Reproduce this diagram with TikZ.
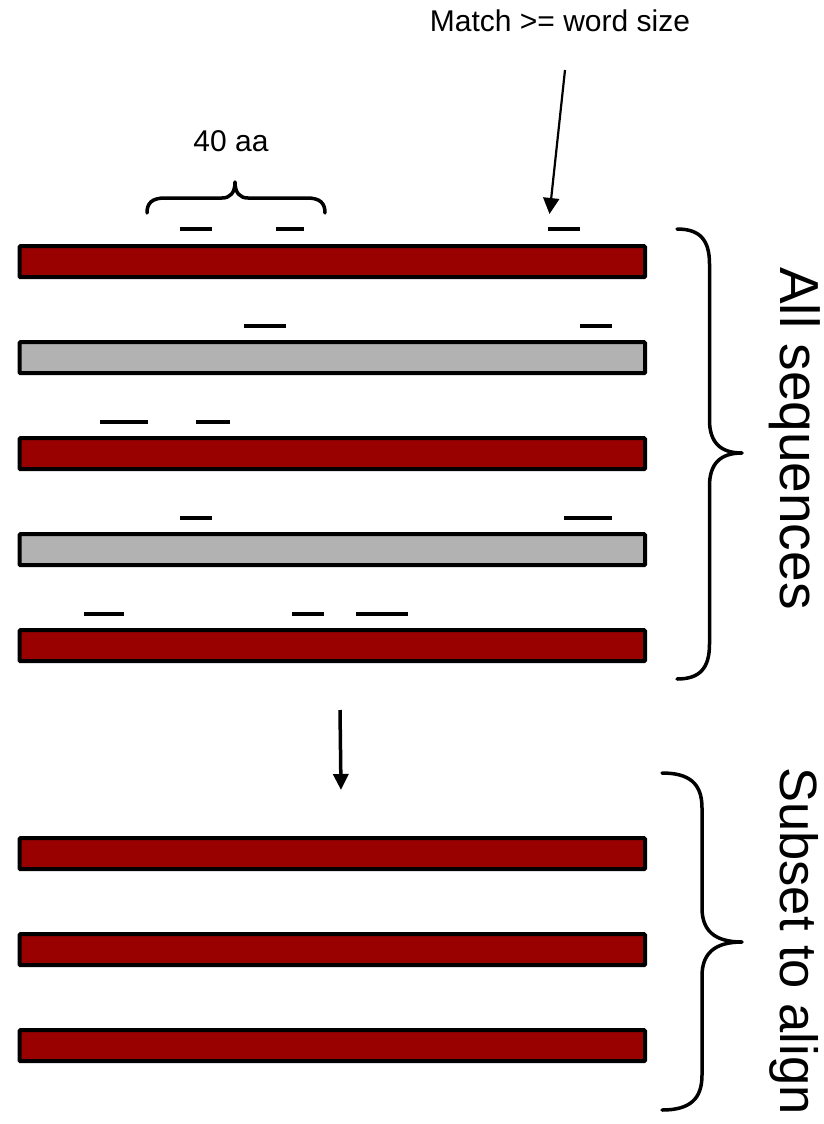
\documentclass[tikz,border=0pt]{standalone}
\usepackage{fontspec}
\setmainfont{Liberation Sans}
\usetikzlibrary{arrows.meta}
\definecolor{seqred}{RGB}{153,0,0}
\definecolor{seqgray}{RGB}{178,178,178}
\tikzset{
  seqbar/.style={draw=black, line width=4pt, rounded corners=1pt, minimum width=625.5pt, minimum height=31pt, inner sep=0pt, outer sep=0pt},
  redbar/.style={seqbar, fill=seqred},
  graybar/.style={seqbar, fill=seqgray},
  wordhit/.style={line width=4pt},
  bracepath/.style={line width=3.5pt, line cap=round, line join=round},
  lbl/.style={inner sep=0pt, font=\fontsize{30}{36}\selectfont},
  biglbl/.style={inner sep=0pt, rotate=-90, anchor=base west},
  pointer/.style={line width=2.2pt, -{Triangle[length=16pt,width=16pt]}},
  flow/.style={line width=3.5pt, -{Triangle[length=16pt,width=15pt]}}
}
\begin{document}
\begin{tikzpicture}[x=1pt,y=-1pt]
\useasboundingbox (0,0) rectangle (824,1124);

% sequence bars
\node[redbar]  (b1) at (332.25,261.7) {};
\node[graybar] (b2) at (332.25,357.7) {};
\node[redbar]  (b3) at (332.25,453.7) {};
\node[graybar] (b4) at (332.25,549.7) {};
\node[redbar]  (b5) at (332.25,645.7) {};
\node[redbar]  (b6) at (332.25,853.7) {};
\node[redbar]  (b7) at (332.25,949.7) {};
\node[redbar]  (b8) at (332.25,1045.7) {};

% word hits
\draw[wordhit] (180,229.3) -- (212,229.3);
\draw[wordhit] (276,229.3) -- (304,229.3);
\draw[wordhit] (548,229.3) -- (580,229.3);
\draw[wordhit] (244,325.7) -- (286,325.7);
\draw[wordhit] (580,325.7) -- (612,325.7);
\draw[wordhit] (100,421.7) -- (148,421.7);
\draw[wordhit] (196,421.7) -- (230,421.7);
\draw[wordhit] (180,517.7) -- (212,517.7);
\draw[wordhit] (564,517.7) -- (612,517.7);
\draw[wordhit] (84,613.7) -- (124,613.7);
\draw[wordhit] (292,613.7) -- (324,613.7);
\draw[wordhit] (356,613.7) -- (408,613.7);

% labels
\node[lbl, anchor=base] (match) at (560,32) {Match >= word size};
\node[lbl, anchor=base] (forty) at (231,151.5) {40 aa};
\node[biglbl, font=\fontsize{55}{66}\selectfont] (allseq) at (780,267) {All sequences};
\node[biglbl, font=\fontsize{52.5}{63}\selectfont] (subset) at (780,767) {Subset to align};

% arrows
\coordinate (matchtail) at (565,70);
\coordinate (matchtip) at (549.5,214);
\draw[pointer] (matchtail) -- (matchtip);
\coordinate (flowtail) at (340,710);
\coordinate (flowtip) at (341,790);
\draw[flow] (flowtail) -- (flowtip);

% top brace (40 aa)
\draw[bracepath] (147,213) .. controls (147,203) and (152,198) .. (165,198) -- (222,198)
  .. controls (230,198) and (235,193) .. (235,182)
  .. controls (235,193) and (240,198) .. (248,198) -- (307,198)
  .. controls (320,198) and (325,203) .. (325,213);

% right brace: all sequences
\draw[bracepath] (677,229) .. controls (700,229) and (709.5,240) .. (709.5,264) -- (709.5,420)
  .. controls (709.5,442) and (720,453) .. (742,453)
  .. controls (720,453) and (709.5,464) .. (709.5,486) -- (709.5,644)
  .. controls (709.5,668) and (700,679) .. (677,679);

% right brace: subset to align
\draw[bracepath] (662,773) .. controls (690,773) and (702,784) .. (702,808) -- (702,908)
  .. controls (702,930) and (714,942) .. (742,942)
  .. controls (714,942) and (702,954) .. (702,976) -- (702,1075)
  .. controls (702,1099) and (690,1110) .. (662,1110);
\end{tikzpicture}
\end{document}
